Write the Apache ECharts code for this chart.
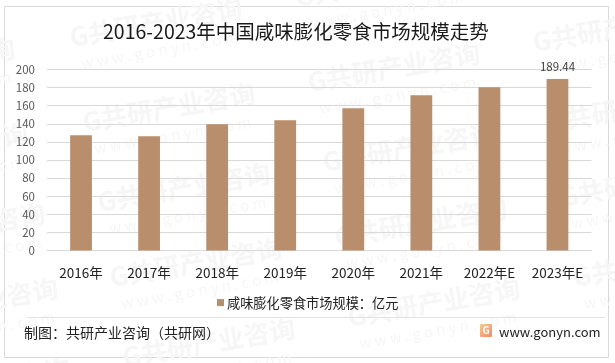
<!DOCTYPE html>
<html><head><meta charset="utf-8">
<style>html,body{margin:0;padding:0;background:#fff}#c{width:615px;height:363px}</style>
<script src="https://cdn.jsdelivr.net/npm/echarts@6/dist/echarts.min.js"></script>
</head><body><div id="c"></div>
<script>
const categories = ['2016年','2017年','2018年','2019年','2020年','2021年','2022年E','2023年E'];
const values = [127.4,126.3,139.6,144,157.2,171.6,180.4,189.44];
const yTicks = [0,20,40,60,80,100,120,140,160,180,200];
const seriesName = '咸味膨化零食市场规模：亿元';
const titleText = '2016-2023年中国咸味膨化零食市场规模走势';
const footerText = '制图：共研产业咨询（共研网）';
const siteText = 'www.gonyn.com';
const wmAnchors = [[-155,90],[72,50],[297,10],[522,-30],[-142,175],[85,135],[310,95],[535,55],[-125,255],[100,215],[325,175],[550,135],[-112,330],[112,290],[337,250],[562,210],[-100,410],[125,370],[350,330],[575,290]];
const font = '"Noto Sans CJK SC","Noto Sans",sans-serif';
const wm = [];
wmAnchors.forEach(([x,y])=>{
  wm.push({type:'text',x,y,rotation:0.17,z:-1,silent:true,style:{text:'G共研产业咨询',fill:'#f6f6f6',font:'bold 26px '+font,textVerticalAlign:'bottom'}});
  wm.push({type:'text',x:x+8,y:y+6,rotation:0.17,z:-1,silent:true,style:{text:'w w w . g o n y n . c o m',fill:'#f6f6f6',font:'15px '+font,textVerticalAlign:'top'}});
});
const chart = echarts.init(document.getElementById('c'),null,{renderer:'canvas'});
chart.setOption({
  animation:false,
  backgroundColor:'#fff',
  textStyle:{fontFamily:font},
  title:{text:titleText,left:103,top:22,padding:0,itemGap:0,
    textStyle:{fontFamily:font,fontSize:19.5,fontWeight:'normal',color:'#1a1a1a'}},
  legend:{show:true,left:217,top:296,padding:0,itemWidth:7,itemHeight:7,itemGap:4,icon:'rect',
    textStyle:{fontFamily:font,fontSize:13.2,color:'#222',padding:[0,0,0,-2]}},
  grid:{left:47,right:23.5,top:69.5,bottom:112.5,containLabel:false},
  xAxis:{type:'category',data:categories,
    axisLine:{lineStyle:{color:'#d9d9d9',width:1}},axisTick:{show:false},
    axisLabel:{interval:0,margin:16,fontSize:13.5,color:'#222',fontFamily:font}},
  yAxis:{type:'value',min:yTicks[0],max:yTicks[yTicks.length-1],interval:20,
    axisLine:{show:false},axisTick:{show:false},
    axisLabel:{margin:12,fontSize:11.5,color:'#595959',fontFamily:font},
    splitLine:{lineStyle:{color:'#d9d9d9',width:1}}},
  series:[{name:seriesName,type:'bar',data:values.map((v,i)=>i===values.length-1?{value:v,label:{show:true}}:v),barWidth:'32%',
    itemStyle:{color:'#b98e6d'},
    label:{show:false,position:'top',distance:7,fontSize:11.5,color:'#404040',fontFamily:font}}],
  graphic:wm.concat([
    {type:'rect',shape:{x:4.5,y:6.5,width:604,height:351},z:-2,silent:true,style:{fill:'none',stroke:'#d9d9d9',lineWidth:1}},
    {type:'line',shape:{x1:27,y1:317.5,x2:605,y2:317.5},silent:true,style:{stroke:'#e2e2e2',lineWidth:1}},
    {type:'text',x:24,y:333,silent:true,style:{text:footerText,fill:'#222',font:'14px '+font,textVerticalAlign:'middle'}},
    {type:'rect',shape:{x:480,y:324,width:12,height:13,r:1},silent:true,style:{fill:new echarts.graphic.LinearGradient(0,0,1,1,[{offset:0,color:'#f7c98a'},{offset:1,color:'#f08a6a'}])}},
    {type:'text',x:486,y:330.5,silent:true,style:{text:'G',fill:'#fff',font:'bold 10px '+font,textAlign:'center',textVerticalAlign:'middle'}},
    {type:'text',x:499,y:332,silent:true,style:{text:siteText,fill:'#222',font:'13px '+font,textVerticalAlign:'middle'}}
  ])
});
</script></body></html>
